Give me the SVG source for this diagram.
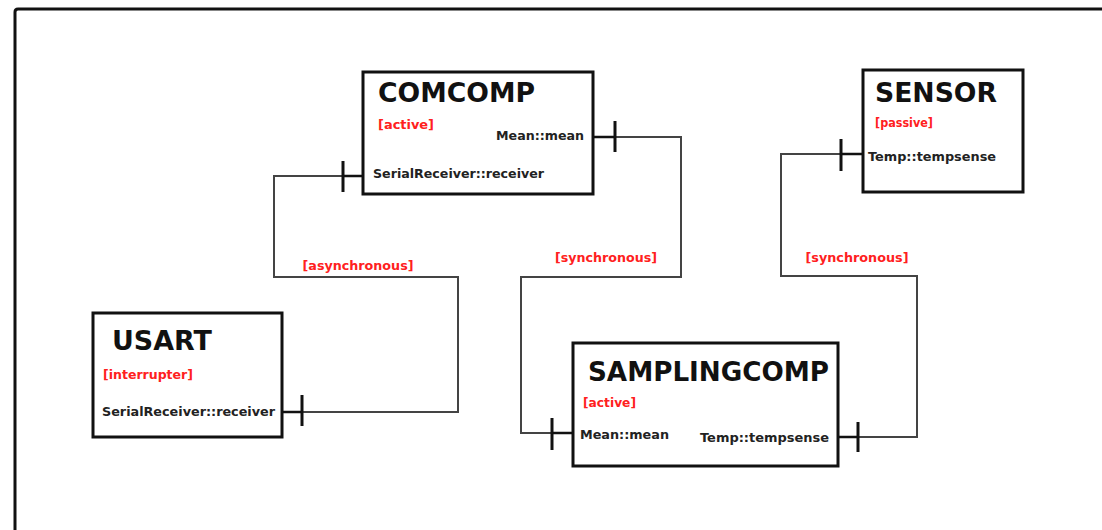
<svg xmlns="http://www.w3.org/2000/svg" width="1102" height="530" viewBox="0 0 1102 530">
<style>
.box{fill:#fff;stroke:#111;stroke-width:3}
.title{font-family:"DejaVu Sans",sans-serif;font-weight:bold;font-size:26px;fill:#111}
.stereo{font-family:"DejaVu Sans",sans-serif;font-weight:bold;font-size:12px;fill:#ff2020}
.port{font-family:"DejaVu Sans",sans-serif;font-weight:bold;font-size:12px;fill:#222}
.wire{fill:none;stroke:#444;stroke-width:2}
.stub{fill:none;stroke:#111;stroke-width:2.5}
.tick{stroke:#111;stroke-width:3}
</style>
<rect x="0" y="0" width="1102" height="530" fill="#fff"/>
<path d="M15 530 V12 Q15 9 18 9 H1102" fill="none" stroke="#111" stroke-width="3"/>
<g id="connectors">
<g id="c-usart-comcomp">
<path class="wire" d="M302 412 H458 V277 H274 V176 H343"/>
<path class="stub" d="M282 412 H302 M343 176 H363"/>
<line class="tick" x1="302" y1="395" x2="302" y2="426"/>
<line class="tick" x1="343" y1="161" x2="343" y2="192"/>
<text class="stereo" x="358" y="270" text-anchor="middle" textLength="111" lengthAdjust="spacingAndGlyphs">[asynchronous]</text>
</g>
<g id="c-comcomp-sampling">
<path class="wire" d="M615 137 H681 V277 H521 V433 H552"/>
<path class="stub" d="M593 137 H615 M552 433 H573"/>
<line class="tick" x1="615" y1="121" x2="615" y2="152"/>
<line class="tick" x1="552" y1="418" x2="552" y2="450"/>
<text class="stereo" x="606" y="262" text-anchor="middle" textLength="102" lengthAdjust="spacingAndGlyphs">[synchronous]</text>
</g>
<g id="c-sampling-sensor">
<path class="wire" d="M858 437 H917 V276 H781 V154 H841"/>
<path class="stub" d="M838 437 H858 M841 154 H862"/>
<line class="tick" x1="858" y1="422" x2="858" y2="452"/>
<line class="tick" x1="841" y1="139" x2="841" y2="171"/>
<text class="stereo" x="857" y="262" text-anchor="middle" textLength="103" lengthAdjust="spacingAndGlyphs">[synchronous]</text>
</g>
</g>
<g id="comcomp">
<rect class="box" x="363" y="72" width="230" height="122"/>
<text class="title" x="378" y="102" textLength="157" lengthAdjust="spacingAndGlyphs">COMCOMP</text>
<text class="stereo" x="378" y="129" textLength="56" lengthAdjust="spacingAndGlyphs">[active]</text>
<text class="port" x="584" y="140" text-anchor="end" textLength="88" lengthAdjust="spacingAndGlyphs">Mean::mean</text>
<text class="port" x="373" y="178" textLength="171" lengthAdjust="spacingAndGlyphs">SerialReceiver::receiver</text>
</g>
<g id="sensor">
<rect class="box" x="863" y="70" width="160" height="122"/>
<text class="title" x="875" y="102" textLength="122" lengthAdjust="spacingAndGlyphs">SENSOR</text>
<text class="stereo" x="875" y="127" textLength="58" lengthAdjust="spacingAndGlyphs">[passive]</text>
<text class="port" x="868" y="161" textLength="128" lengthAdjust="spacingAndGlyphs">Temp::tempsense</text>
</g>
<g id="usart">
<rect class="box" x="93" y="313" width="189" height="124"/>
<text class="title" x="112" y="350" textLength="100" lengthAdjust="spacingAndGlyphs">USART</text>
<text class="stereo" x="103" y="379" textLength="90" lengthAdjust="spacingAndGlyphs">[interrupter]</text>
<text class="port" x="102" y="416" textLength="173" lengthAdjust="spacingAndGlyphs">SerialReceiver::receiver</text>
</g>
<g id="samplingcomp">
<rect class="box" x="573" y="343" width="265" height="123"/>
<text class="title" x="588" y="381" textLength="241" lengthAdjust="spacingAndGlyphs">SAMPLINGCOMP</text>
<text class="stereo" x="583" y="407" textLength="53" lengthAdjust="spacingAndGlyphs">[active]</text>
<text class="port" x="580" y="439" textLength="89" lengthAdjust="spacingAndGlyphs">Mean::mean</text>
<text class="port" x="829" y="442" text-anchor="end" textLength="129" lengthAdjust="spacingAndGlyphs">Temp::tempsense</text>
</g>
</svg>
